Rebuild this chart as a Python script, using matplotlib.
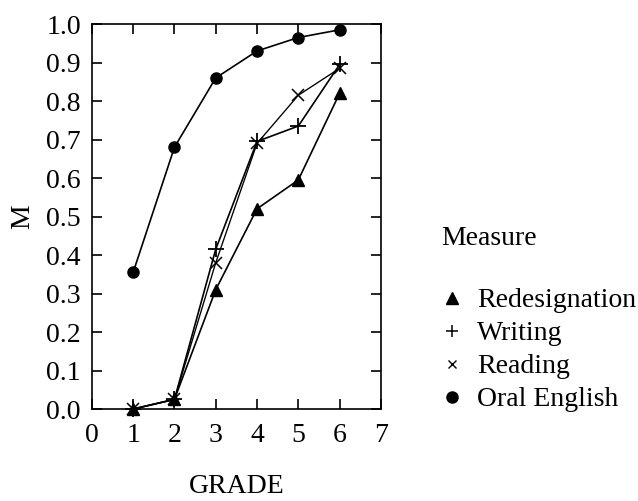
import matplotlib
matplotlib.use("Agg")
import matplotlib.pyplot as plt
from matplotlib.lines import Line2D

grades = [1, 2, 3, 4, 5, 6]
redesignation = [0.0, 0.025, 0.31, 0.52, 0.595, 0.82]
writing = [0.0, 0.025, 0.415, 0.695, 0.735, 0.895]
reading = [0.0, 0.025, 0.38, 0.69, 0.815, 0.885]
oral_english = [0.355, 0.68, 0.86, 0.93, 0.965, 0.985]

plt.rcParams['font.family'] = ['Liberation Serif', 'DejaVu Serif']
fs = 20

fig = plt.figure(figsize=(6.38, 5.01), dpi=100)
ax = fig.add_axes([0.144, 0.1836, 0.453, 0.7684])

lw = 1.2
ax.plot(grades, redesignation, color='black', lw=lw, marker='^', ms=8, clip_on=False, zorder=3)
ax.plot(grades, writing, color='black', lw=lw, marker='+', ms=11, mew=1.3, clip_on=False, zorder=3)
ax.plot(grades, reading, color='black', lw=lw * 0.8, marker='x', ms=8, mew=1.1, clip_on=False, zorder=3)
ax.plot(grades, oral_english, color='black', lw=lw, marker='o', ms=8, clip_on=False, zorder=3)

ax.set_xlim(0, 7)
ax.set_ylim(0, 1.0)
ax.set_xticks(range(0, 8))
ax.set_yticks([i / 10 for i in range(11)])
ax.set_yticklabels(['%.1f' % (i / 10) for i in range(11)])
ax.tick_params(direction='in', length=7, width=1.2, top=True, right=True,
               labelsize=fs, pad=8)
ax.tick_params(axis='x', pad=10)
for s in ax.spines.values():
    s.set_linewidth(1.2)

ax.set_xlabel('GRADE', fontsize=fs, va='baseline')
ax.xaxis.set_label_coords(0.5, -0.218)
ax.set_ylabel('M', fontsize=fs, labelpad=8)

fig.text(0.691, 0.511, 'Measure', fontsize=fs, va='baseline', ha='left')
handles = [
    Line2D([], [], color='black', ls='none', marker='^', ms=9),
    Line2D([], [], color='black', ls='none', marker='+', ms=9, mew=1.1),
    Line2D([], [], color='black', ls='none', marker='x', ms=6, mew=1.0),
    Line2D([], [], color='black', ls='none', marker='o', ms=8),
]
labels = ['Redesignation', 'Writing', 'Reading', 'Oral English']
fig.legend(handles, labels, loc='upper left', bbox_to_anchor=(0.6865, 0.4251),
           frameon=False, fontsize=fs, handlelength=1.0, handletextpad=0.4,
           labelspacing=0.27, borderaxespad=0, borderpad=0)

fig.savefig('out.png', dpi=100)
